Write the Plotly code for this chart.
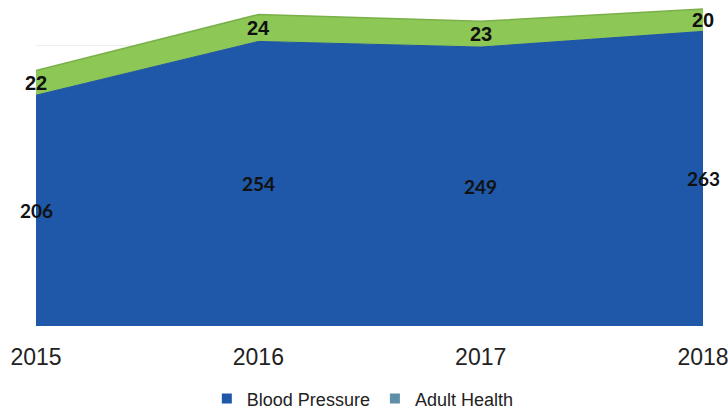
import plotly.graph_objects as go

years = ["2015", "2016", "2017", "2018"]
blood_pressure = [206, 254, 249, 263]
adult_health = [22, 24, 23, 20]

BLUE = "#1f58a8"
GREEN = "#8dc756"
LEG_GREEN = "#5f8fa8"

fig = go.Figure()
fig.add_trace(go.Scatter(
    x=years, y=blood_pressure, stackgroup="one", mode="lines",
    line=dict(color="#1d53a0", width=1), fillcolor=BLUE,
    name="Blood Pressure", showlegend=False, hoverinfo="skip"))
fig.add_trace(go.Scatter(
    x=years, y=adult_health, stackgroup="one", mode="lines",
    line=dict(color="#79b049", width=1.5), fillcolor=GREEN,
    name="Adult Health", showlegend=False, hoverinfo="skip"))

# legend entries
fig.add_trace(go.Scatter(x=[None], y=[None], mode="markers", name="Blood Pressure",
                         marker=dict(symbol="square", size=10, color=BLUE)))
fig.add_trace(go.Scatter(x=[None], y=[None], mode="markers", name="Adult Health",
                         marker=dict(symbol="square", size=10, color=LEG_GREEN)))

# data labels at the middle of each band
for i, (b, a) in enumerate(zip(blood_pressure, adult_health)):
    fig.add_annotation(x=i, y=b / 2, text=str(b), showarrow=False,
                       font=dict(family="Lato", size=19, color="#111111", weight="bold"),
                       xanchor="center", yanchor="middle")
    fig.add_annotation(x=i, y=b + a / 2, text=str(a), showarrow=False,
                       font=dict(family="Liberation Sans", size=20, color="#111111",
                                 weight="bold"),
                       xanchor="center", yanchor="middle")

fig.update_layout(
    width=728, height=409,
    margin=dict(l=36, r=25, t=0, b=83, autoexpand=False),
    paper_bgcolor="white", plot_bgcolor="white",
    font=dict(family="Liberation Sans, Arial", color="#222222"),
    showlegend=True,
    legend=dict(orientation="h", x=0.49, xanchor="center", yref="container",
                y=0.025, yanchor="middle",
                font=dict(size=18, color="#222222"), itemwidth=30, traceorder="normal"),
    xaxis=dict(type="category", range=[0, 3], showgrid=False, zeroline=False,
               showline=False, ticks="", tickfont=dict(size=23, color="#222222"),
               ticklabelstandoff=15, automargin=False),
    yaxis=dict(range=[0, 291], dtick=50, showgrid=True, gridcolor="#eeeeee",
               zeroline=False, showticklabels=False, ticks="", automargin=False),
)

fig.write_html("out.html")
